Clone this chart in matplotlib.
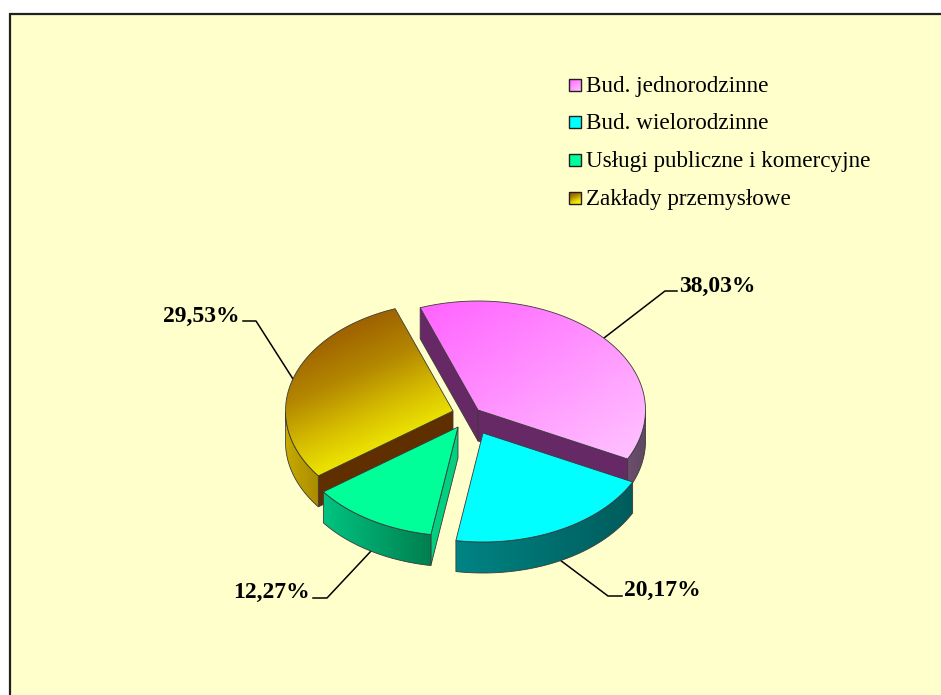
import matplotlib
matplotlib.use("Agg")
import matplotlib.pyplot as plt
import numpy as np
from matplotlib.colors import LinearSegmentedColormap
from matplotlib.patches import Polygon, Rectangle

plt.rcParams['font.family'] = ['Liberation Serif', 'DejaVu Serif']

categories = ["Bud. jednorodzinne", "Bud. wielorodzinne",
              "Usługi publiczne i komercyjne", "Zakłady przemysłowe"]
values = [38.03, 20.17, 12.27, 29.53]
value_labels = ["38,03%", "20,17%", "12,27%", "29,53%"]

# layout of the pie, in pixels of the picture
apex = [(478, 410), (483, 433), (458, 427), (453, 411)]
start_angle = 110.2
rx, ry = 167.5, 109
depth = 31

top_colors = [("#FF62FF", "#FFC4FF"), ("#00FFFF", "#00FFFF"),
              ("#00FF99", "#00FF99"),
              ("#9C5A00", "#A06400", "#B48800", "#D8C000", "#F4F000", "#F4F000")]
top_dirs = [(0.55, 0.85), (1, 0), (1, 0), (0.4, 0.9)]
rim_colors = [("#6E4E6E", "#5E485E"), ("#008484", "#005C5C"),
              ("#00C481", "#007F50"), ("#C8AA00", "#A88A00")]
cut_colors = ["#662966", "#006666", "#00D080", "#5F2F00"]

leaders = [[(604, 338), (665, 291), (677, 291)],
           [(560, 560), (608, 596), (622, 596)],
           [(372, 550), (327, 598), (313, 598)],
           [(293, 379), (256, 321), (243, 321)]]
label_pos = [(679, 286, "left"), (624, 590, "left"),
             (310, 592, "right"), (240, 316, "right")]
legend_y = [85, 122, 160, 198]

fig = plt.figure(figsize=(9.41, 6.95), dpi=100, facecolor="white")
ax = fig.add_axes([0, 0, 1, 1])
ax.set_xlim(0, 941)
ax.set_ylim(695, 0)
ax.axis("off")

ax.add_patch(Rectangle((10.5, 13.5), 940, 690, facecolor="#FFFFCC",
                       edgecolor="#202020", linewidth=1.6, zorder=0))


def grad_fill(verts, colors, direction, z):
    # gradient polygon: an image clipped to the shape, with a thin outline on top
    verts = np.array(verts)
    x0, y0 = verts.min(axis=0)
    x1, y1 = verts.max(axis=0)
    xx, yy = np.meshgrid(np.linspace(0, 1, 120), np.linspace(0, 1, 120))
    dx, dy = direction
    t = xx * dx * (x1 - x0) + yy * dy * (y1 - y0)
    t = (t - t.min()) / max(t.max() - t.min(), 1e-6)
    cmap = LinearSegmentedColormap.from_list("g", list(colors))
    im = ax.imshow(t, cmap=cmap, extent=(x0, x1, y1, y0), aspect="auto",
                   origin="upper", zorder=z, interpolation="bilinear")
    outline = Polygon(verts, closed=True, facecolor="none", edgecolor="#3A3A3A",
                      linewidth=0.6, zorder=z + 0.1)
    ax.add_patch(outline)
    im.set_clip_path(outline)


def rim_point(cx, cy, ang):
    ang = np.radians(ang)
    return np.column_stack([cx + rx * np.cos(ang), cy - ry * np.sin(ang)])


# leader lines go behind the pie
for pts in leaders:
    pts = np.array(pts)
    ax.plot(pts[:, 0], pts[:, 1], color="black", linewidth=1.1, zorder=1)

# wedge angles come from the values, clockwise from the start angle
ends = start_angle - np.cumsum(values) * 3.6
starts = np.r_[start_angle, ends[:-1]]

for z, i in enumerate([0, 3, 2, 1]):
    cx, cy = apex[i]
    z = 2 + z * 2
    a1, a2 = starts[i], ends[i]
    arc = rim_point(cx, cy, np.linspace(a1, a2, 80))

    # cut faces, only those turned to the viewer
    if np.cos(np.radians(a1)) < 0:
        corner = arc[0]
        face = [(cx, cy), corner, corner + (0, depth), (cx, cy + depth)]
        ax.add_patch(Polygon(face, closed=True, facecolor=cut_colors[i],
                             edgecolor="#3A3A3A", linewidth=0.6, zorder=z))
    if np.cos(np.radians(a2)) > 0:
        corner = arc[-1]
        face = [(cx, cy), corner, corner + (0, depth), (cx, cy + depth)]
        ax.add_patch(Polygon(face, closed=True, facecolor=cut_colors[i],
                             edgecolor="#3A3A3A", linewidth=0.6, zorder=z))

    # outer rim, only the part that looks to the front
    angs = np.linspace(a1, a2, 160)
    angs = angs[np.sin(np.radians(angs)) <= 0]
    if len(angs) > 1:
        rim = rim_point(cx, cy, angs)
        verts = np.vstack([rim, (rim + (0, depth))[::-1]])
        grad_fill(verts, rim_colors[i], (1, 0), z + 0.2)

    # top face
    verts = np.vstack([[(cx, cy)], arc])
    grad_fill(verts, top_colors[i], top_dirs[i], z + 0.5)

# value labels
for lab, (x, y, ha) in zip(value_labels, label_pos):
    ax.text(x, y, lab, ha=ha, va="center", fontsize=17, fontweight="bold",
            color="black", zorder=20)

# legend
for i, (name, y) in enumerate(zip(categories, legend_y)):
    box = [(569, y - 6), (581, y - 6), (581, y + 6), (569, y + 6)]
    grad_fill(box, top_colors[i], top_dirs[i], 20)
    ax.add_patch(Polygon(box, closed=True, facecolor="none", edgecolor="#202020",
                         linewidth=1.0, zorder=21))
    ax.text(586, y + 1.5, name, ha="left", va="center", fontsize=16.7,
            color="black", zorder=21)

ax.set_xlim(0, 941)
ax.set_ylim(695, 0)
fig.savefig("out.png", dpi=100)
